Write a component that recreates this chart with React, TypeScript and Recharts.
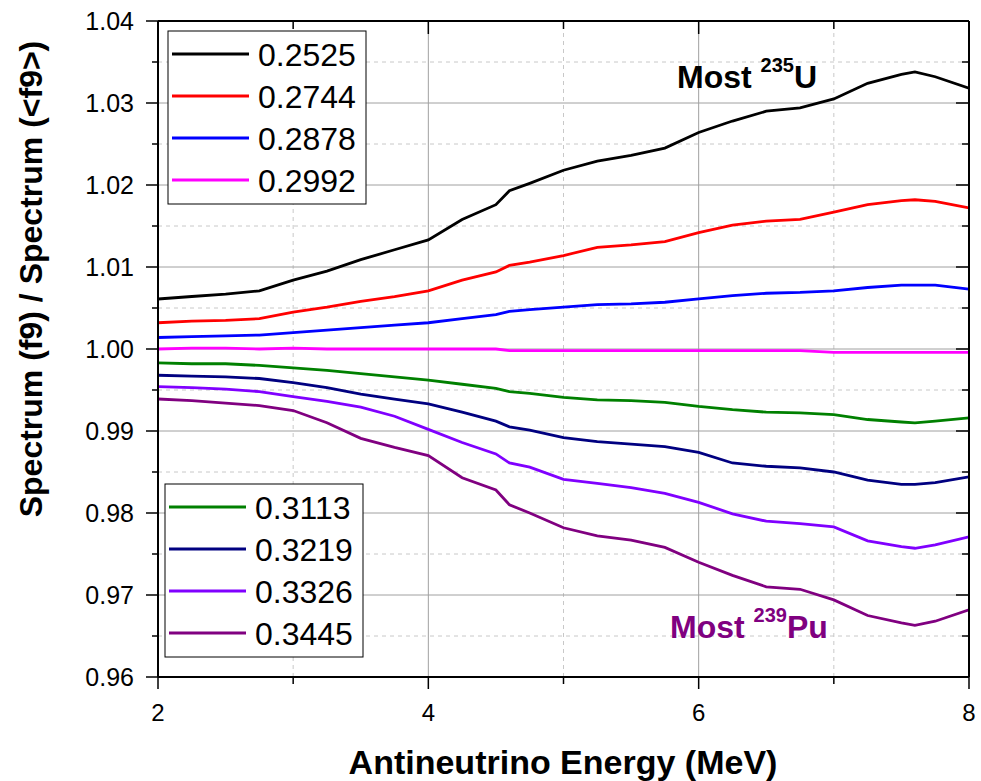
import React from "react";
import { LineChart, Line, XAxis, YAxis, ReferenceLine } from "recharts";

const FONT = "'Liberation Sans', Arial, sans-serif";

// energy grid (MeV)
const energies = [
  2, 2.25, 2.5, 2.75, 3, 3.25, 3.5, 3.75, 4, 4.25, 4.5, 4.6, 4.75, 5, 5.25, 5.5,
  5.75, 6, 6.25, 6.5, 6.75, 7, 7.25, 7.5, 7.6, 7.75, 8,
];

const f2525 = [
  1.0061, 1.0064, 1.0067, 1.0071, 1.0084, 1.0095, 1.0109, 1.0121, 1.0133, 1.0158,
  1.0176, 1.0193, 1.0202, 1.0218, 1.0229, 1.0236, 1.0245, 1.0264, 1.0278, 1.029,
  1.0294, 1.0305, 1.0324, 1.0335, 1.0338, 1.0332, 1.0318,
];
const f2744 = [
  1.0032, 1.0034, 1.0035, 1.0037, 1.0045, 1.0051, 1.0058, 1.0064, 1.0071, 1.0084,
  1.0094, 1.0102, 1.0106, 1.0114, 1.0124, 1.0127, 1.0131, 1.0142, 1.0151, 1.0156,
  1.0158, 1.0167, 1.0176, 1.0181, 1.0182, 1.018, 1.0172,
];
const f2878 = [
  1.0014, 1.0015, 1.0016, 1.0017, 1.002, 1.0023, 1.0026, 1.0029, 1.0032, 1.0037,
  1.0042, 1.0046, 1.0048, 1.0051, 1.0054, 1.0055, 1.0057, 1.0061, 1.0065, 1.0068,
  1.0069, 1.0071, 1.0075, 1.0078, 1.0078, 1.0078, 1.0073,
];
const f2992 = [
  1.0, 1.0001, 1.0001, 1.0, 1.0001, 1.0, 1.0, 1.0, 1.0, 1.0, 1.0, 0.9998, 0.9998,
  0.9998, 0.9998, 0.9998, 0.9998, 0.9998, 0.9998, 0.9998, 0.9998, 0.9996, 0.9996,
  0.9996, 0.9996, 0.9996, 0.9996,
];
const f3113 = [
  0.9983, 0.9982, 0.9982, 0.998, 0.9977, 0.9974, 0.997, 0.9966, 0.9962, 0.9957,
  0.9952, 0.9948, 0.9946, 0.9941, 0.9938, 0.9937, 0.9935, 0.993, 0.9926, 0.9923,
  0.9922, 0.992, 0.9914, 0.9911, 0.991, 0.9912, 0.9916,
];
const f3219 = [
  0.9968, 0.9967, 0.9966, 0.9964, 0.9959, 0.9953, 0.9945, 0.9939, 0.9933, 0.9923,
  0.9912, 0.9905, 0.9901, 0.9892, 0.9887, 0.9884, 0.9881, 0.9874, 0.9861, 0.9857,
  0.9855, 0.985, 0.984, 0.9835, 0.9835, 0.9837, 0.9844,
];
const f3326 = [
  0.9954, 0.9953, 0.9951, 0.9948, 0.9942, 0.9936, 0.9929, 0.9918, 0.9902, 0.9886,
  0.9872, 0.9861, 0.9856, 0.9841, 0.9836, 0.9831, 0.9824, 0.9813, 0.9799, 0.979,
  0.9787, 0.9783, 0.9766, 0.9759, 0.9757, 0.9761, 0.9771,
];
const f3445 = [
  0.9939, 0.9937, 0.9934, 0.9931, 0.9925, 0.991, 0.9891, 0.988, 0.987, 0.9843,
  0.9828, 0.981, 0.98, 0.9782, 0.9772, 0.9767, 0.9758, 0.974, 0.9724, 0.971,
  0.9707, 0.9694, 0.9675, 0.9666, 0.9663, 0.9668, 0.9682,
];

const yMajor = [0.96, 0.97, 0.98, 0.99, 1.0, 1.01, 1.02, 1.03, 1.04];
const yMinor = [0.965, 0.975, 0.985, 0.995, 1.005, 1.015, 1.025, 1.035];
const xMajor = [2, 4, 6, 8];
const xMinor = [3, 5, 7];
const yAll = [...yMajor, ...yMinor].sort((a, b) => a - b);
const xAll = [...xMajor, ...xMinor].sort((a, b) => a - b);

const series = [
  { key: "f2525", label: "0.2525", color: "#000000", values: f2525 },
  { key: "f2744", label: "0.2744", color: "#ff0000", values: f2744 },
  { key: "f2878", label: "0.2878", color: "#0000ff", values: f2878 },
  { key: "f2992", label: "0.2992", color: "#ff00ff", values: f2992 },
  { key: "f3113", label: "0.3113", color: "#008000", values: f3113 },
  { key: "f3219", label: "0.3219", color: "#000080", values: f3219 },
  { key: "f3326", label: "0.3326", color: "#8000ff", values: f3326 },
  { key: "f3445", label: "0.3445", color: "#800080", values: f3445 },
];

const rows = energies.map((e, i) => {
  const row: Record<string, number> = { e };
  series.forEach((s) => (row[s.key] = s.values[i]));
  return row;
});

const isMajorY = (v: number) => yMajor.some((m) => Math.abs(m - v) < 1e-6);
const isMajorX = (v: number) => xMajor.some((m) => Math.abs(m - v) < 1e-6);

const axisLine = { stroke: "#000", strokeWidth: 2 };

// custom tick renderers: tickSize/tickMargin are 0 so (x, y) sits on the axis line
const LeftTick = (p: any) => {
  const major = isMajorY(p.payload.value);
  return (
    <g>
      <line x1={p.x - (major ? 12 : 6)} x2={p.x} y1={p.y} y2={p.y} stroke="#000" strokeWidth={1.5} />
      {major && (
        <text x={p.x - 24} y={p.y + 9} textAnchor="end" fontSize={25} fontFamily={FONT} fill="#000">
          {p.payload.value.toFixed(2)}
        </text>
      )}
    </g>
  );
};
const RightTick = (p: any) => {
  const major = isMajorY(p.payload.value);
  return <line x1={p.x - (major ? 13 : 7)} x2={p.x} y1={p.y} y2={p.y} stroke="#000" strokeWidth={1.5} />;
};
const BottomTick = (p: any) => {
  const major = isMajorX(p.payload.value);
  return (
    <g>
      <line x1={p.x} x2={p.x} y1={p.y} y2={p.y + (major ? 12 : 7)} stroke="#000" strokeWidth={1.5} />
      {major && (
        <text x={p.x} y={p.y + 44} textAnchor="middle" fontSize={24} fontFamily={FONT} fill="#000">
          {p.payload.value}
        </text>
      )}
    </g>
  );
};
const TopTick = (p: any) => {
  const major = isMajorX(p.payload.value);
  return <line x1={p.x} x2={p.x} y1={p.y} y2={p.y + (major ? 13 : 8)} stroke="#000" strokeWidth={1.5} />;
};

function LegendBox({ x, y, items }: { x: number; y: number; items: typeof series }) {
  return (
    <g>
      <rect x={x} y={y} width={198} height={173} fill="#fff" stroke="#000" strokeWidth={1} />
      {items.map((s, i) => {
        const cy = y + 23 + i * 42;
        return (
          <g key={s.key}>
            <line x1={x + 4} x2={x + 81} y1={cy} y2={cy} stroke={s.color} strokeWidth={3} />
            <text x={x + 90} y={cy + 11.5} fontSize={32} fontFamily={FONT} fill="#000">
              {s.label}
            </text>
          </g>
        );
      })}
    </g>
  );
}

export default function App() {
  return (
    <div style={{ position: "absolute", left: 0, top: 0, width: 981, height: 781, background: "#fff" }}>
      <LineChart
        width={981}
        height={781}
        data={rows}
        margin={{ top: 19, right: 10, bottom: 54, left: 78 }}
      >
        {/* minor grid: dashed */}
        {xMinor.map((v) => (
          <ReferenceLine key={"vx" + v} xAxisId="x" yAxisId="y" x={v} stroke="#c8c8c8" strokeDasharray="4 4" />
        ))}
        {yMinor.map((v) => (
          <ReferenceLine key={"vy" + v} xAxisId="x" yAxisId="y" y={v} stroke="#c8c8c8" strokeDasharray="4 4" />
        ))}
        {/* major grid: solid */}
        {xMajor.slice(1, -1).map((v) => (
          <ReferenceLine key={"mx" + v} xAxisId="x" yAxisId="y" x={v} stroke="#a0a0a0" />
        ))}
        {yMajor.slice(1, -1).map((v) => (
          <ReferenceLine key={"my" + v} xAxisId="x" yAxisId="y" y={v} stroke="#a0a0a0" />
        ))}

        <XAxis
          xAxisId="x"
          type="number"
          dataKey="e"
          domain={[2, 8]}
          allowDataOverflow
          ticks={xAll}
          interval={0}
          height={50}
          tickSize={0}
          tickMargin={0}
          axisLine={axisLine}
          tickLine={false}
          tick={BottomTick}
        />
        <XAxis
          xAxisId="xTop"
          orientation="top"
          type="number"
          dataKey="e"
          domain={[2, 8]}
          allowDataOverflow
          ticks={xAll}
          interval={0}
          height={2}
          tickSize={0}
          tickMargin={0}
          axisLine={axisLine}
          tickLine={false}
          tick={TopTick}
        />

        <YAxis
          yAxisId="y"
          type="number"
          domain={[0.96, 1.04]}
          allowDataOverflow
          ticks={yAll}
          interval={0}
          width={80}
          tickSize={0}
          tickMargin={0}
          axisLine={axisLine}
          tickLine={false}
          tick={LeftTick}
        />
        <YAxis
          yAxisId="yRight"
          orientation="right"
          type="number"
          domain={[0.96, 1.04]}
          allowDataOverflow
          ticks={yAll}
          interval={0}
          width={2}
          tickSize={0}
          tickMargin={0}
          axisLine={axisLine}
          tickLine={false}
          tick={RightTick}
        />

        {series.map((s) => (
          <Line
            key={s.key}
            xAxisId="x"
            yAxisId="y"
            type="linear"
            dataKey={s.key}
            stroke={s.color}
            strokeWidth={2.8}
            dot={false}
            isAnimationActive={false}
          />
        ))}
      </LineChart>

      <svg
        width={981}
        height={781}
        style={{ position: "absolute", left: 0, top: 0, pointerEvents: "none" }}
      >
        <LegendBox x={168} y={31} items={series.slice(0, 4)} />
        <LegendBox x={165} y={484} items={series.slice(4)} />

        <text x={677} y={88} fontSize={32} fontWeight="bold" fontFamily={FONT} fill="#000">
          Most <tspan fontSize={20} dy={-16}>235</tspan>
          <tspan dy={16}>U</tspan>
        </text>
        <text x={670} y={638} fontSize={32} fontWeight="bold" fontFamily={FONT} fill="#800080">
          Most <tspan fontSize={20} dy={-16}>239</tspan>
          <tspan dy={16}>Pu</tspan>
        </text>

        <text
          x={563}
          y={774}
          textAnchor="middle"
          fontSize={34}
          fontWeight="bold"
          fontFamily={FONT}
          fill="#000"
        >
          Antineutrino Energy (MeV)
        </text>
        <text
          transform="translate(42, 279) rotate(-90)"
          textAnchor="middle"
          fontSize={32}
          fontWeight="bold"
          fontFamily={FONT}
          fill="#000"
        >
          Spectrum (f9) / Spectrum (&lt;f9&gt;)
        </text>
      </svg>
    </div>
  );
}
